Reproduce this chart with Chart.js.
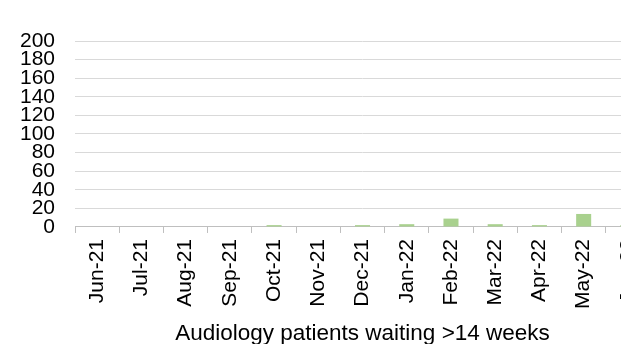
<!DOCTYPE html>
<html lang="en">
<head>
    <meta charset="UTF-8">
    <title>Audiology patients waiting >14 weeks</title>
    <script src="https://cdn.jsdelivr.net/npm/chart.js"></script>
    <style>
        html, body { margin: 0; padding: 0; background: #fff; overflow: hidden; }
        #wrap { position: absolute; left: 0; top: 0; width: 680px; height: 347px; }
    </style>
</head>
<body>

<div id="wrap"><canvas id="waitChart"></canvas></div>

<script>
    // Months shown on the x axis (the last one is cut off by the frame)
    const months = ['Jun-21', 'Jul-21', 'Aug-21', 'Sep-21', 'Oct-21', 'Nov-21',
                    'Dec-21', 'Jan-22', 'Feb-22', 'Mar-22', 'Apr-22', 'May-22', 'Jun-22'];

    // Patients waiting more than 14 weeks
    const patientsWaiting = [0, 0, 0, 0, 2, 0, 2, 3, 9, 3, 2, 14, 2];

    // Y axis range
    const yMin = 0;
    const yMax = 200;
    const yStep = 20;

    const fontFamily = "'Liberation Sans', Arial, sans-serif";
    const axisFont = { family: fontFamily, size: 21 };

    const ctx = document.getElementById('waitChart').getContext('2d');
    new Chart(ctx, {
        type: 'bar',
        data: {
            labels: months,
            datasets: [
                {
                    label: 'Audiology patients waiting >14 weeks',
                    data: patientsWaiting,
                    backgroundColor: '#a9d18e',
                    borderWidth: 0,
                    categoryPercentage: 1,
                    barPercentage: 0.34
                }
            ]
        },
        options: {
            responsive: true,
            maintainAspectRatio: false,
            animation: false,
            layout: {
                padding: { left: 0, top: 41, right: 30, bottom: 0 }
            },
            plugins: {
                legend: { display: false },
                tooltip: { enabled: false }
            },
            scales: {
                x: {
                    grid: {
                        drawOnChartArea: false,
                        drawTicks: true,
                        tickLength: 6,
                        color: '#bfbfbf'
                    },
                    border: { color: '#bfbfbf' },
                    ticks: {
                        autoSkip: false,
                        minRotation: 90,
                        maxRotation: 90,
                        padding: 6,
                        color: '#000',
                        font: axisFont
                    },
                    title: {
                        display: true,
                        text: 'Audiology patients waiting >14 weeks',
                        color: '#000',
                        font: { family: fontFamily, size: 22.5 },
                        padding: { top: 5, bottom: 0 }
                    }
                },
                y: {
                    min: yMin,
                    max: yMax,
                    grid: {
                        drawTicks: false,
                        color: '#d9d9d9'
                    },
                    border: { display: false },
                    ticks: {
                        stepSize: yStep,
                        autoSkip: false,
                        padding: 20,
                        color: '#000',
                        font: axisFont
                    }
                }
            }
        }
    });
</script>

</body>
</html>
